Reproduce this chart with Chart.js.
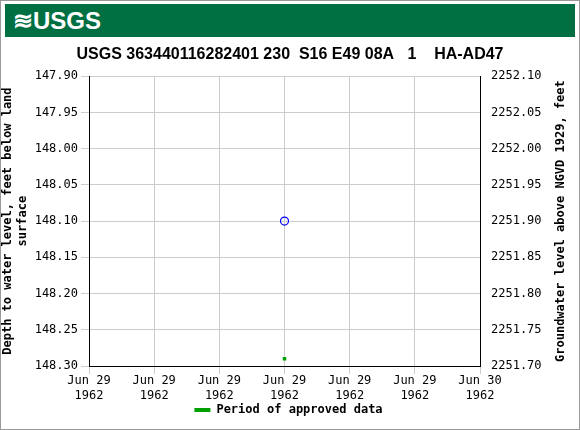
<!DOCTYPE html>
<html>
<head>
<script src="https://cdn.jsdelivr.net/npm/chart.js@4"></script>
<style>
body { margin: 0; background: #fff; }
#wrap { position: relative; width: 578px; height: 428px; border: 1px solid #999; }
#hdr { position: absolute; left: 4px; top: 3px; width: 570px; height: 33px; background: #006f41;
  color: #fff; font: bold 24px "Liberation Sans", Arial, sans-serif; line-height: 33px; padding-left: 8px; box-sizing: border-box; }
canvas { position: absolute; left: 0; top: 0; }
</style>
</head>
<body>
<div id="wrap">
<canvas id="c" width="578" height="428"></canvas>
<div id="hdr">≋USGS</div>
</div>
<script>
const xTickLabels = [['Jun 29','1962'],['Jun 29','1962'],['Jun 29','1962'],['Jun 29','1962'],['Jun 29','1962'],['Jun 29','1962'],['Jun 30','1962']];
const hours = [12];
const depth = [148.10];
const approvedHours = [12];
const approvedDepth = [148.29];
const rightTitle = 'Groundwater level above NGVD 1929, feet';
const legendText = 'Period of approved data';

const mono = 'DejaVu Sans Mono';
// right axis title reads bottom-to-top, and the legend sits lower than Chart.js puts it
const extrasPlugin = {
  id: 'extras',
  afterDraw(ch) {
    const a = ch.chartArea, c = ch.ctx;
    c.save();
    c.font = 'bold 12px ' + mono;
    c.fillStyle = '#000'; c.textAlign = 'center'; c.textBaseline = 'middle';
    c.translate(560, (a.top + a.bottom) / 2);
    c.rotate(-Math.PI / 2);
    c.fillText(rightTitle, 0, 0);
    c.restore();

    c.save();
    c.font = 'bold 12px ' + mono;
    const tw = c.measureText(legendText).width;
    const x0 = (a.left + a.right) / 2 - (tw + 22) / 2 + 4, y = 409;
    c.fillStyle = '#00a000';
    c.fillRect(x0, y - 2, 16, 4);
    c.fillStyle = '#000'; c.textBaseline = 'middle';
    c.fillText(legendText, x0 + 22, y);
    c.restore();
  }
};
new Chart(document.getElementById('c'), {
  type: 'scatter',
  data: {
    datasets: [{
      label: 'Depth',
      data: hours.map((h, i) => ({x: h, y: depth[i]})),
      pointStyle: 'circle', pointRadius: 4, borderColor: '#0000ff', borderWidth: 1.2,
      backgroundColor: 'rgba(0,0,0,0)'
    }, {
      label: legendText,
      data: approvedHours.map((h, i) => ({x: h, y: approvedDepth[i]})),
      pointStyle: 'rect', pointRadius: 2.5, borderWidth: 0,
      backgroundColor: '#00a000', borderColor: '#00a000'
    }]
  },
  plugins: [extrasPlugin],
  options: {
    responsive: false, animation: false,
    layout: { padding: { top: 40, bottom: 23 } },
    plugins: {
      title: { display: true, text: 'USGS 363440116282401 230  S16 E49 08A   1    HA-AD47',
        font: { family: 'Liberation Sans', size: 16, weight: 'bold' }, color: '#000', padding: { top: 4, bottom: 12 } },
      legend: { display: false },
      tooltip: { enabled: false }
    },
    scales: {
      x: { type: 'linear', min: 0, max: 24,
        afterBuildTicks: s => { s.ticks = [0,4,8,12,16,20,24].map(v => ({value: v})); },
        afterFit: s => { s.height = 40; },
        ticks: { callback: (v, i) => xTickLabels[i], font: { family: mono, size: 12 }, color: '#000', maxRotation: 0, padding: 0 },
        grid: { color: '#cccccc' }, border: { color: '#000' } },
      y: { reverse: true, min: 147.90, max: 148.30,
        afterBuildTicks: s => { s.ticks = [147.90,147.95,148.00,148.05,148.10,148.15,148.20,148.25,148.30].map(v => ({value: v})); },
        afterFit: s => { s.width = 88; },
        ticks: { callback: v => v.toFixed(2), font: { family: mono, size: 12 }, color: '#000' },
        title: { display: true, text: ['Depth to water level, feet below land', 'surface'], font: { family: mono, size: 12, weight: 'bold' }, color: '#000', padding: 0 },
        grid: { color: '#cccccc' }, border: { color: '#000' } },
      y2: { position: 'right', min: 2251.70, max: 2252.10,
        afterBuildTicks: s => { s.ticks = [2251.70,2251.75,2251.80,2251.85,2251.90,2251.95,2252.00,2252.05,2252.10].map(v => ({value: v})); },
        afterFit: s => { s.width = 99; },
        ticks: { callback: v => v.toFixed(2), font: { family: mono, size: 12 }, color: '#000' },
        grid: { display: false }, border: { color: '#000' } }
    }
  }
});
</script>
</body>
</html>
